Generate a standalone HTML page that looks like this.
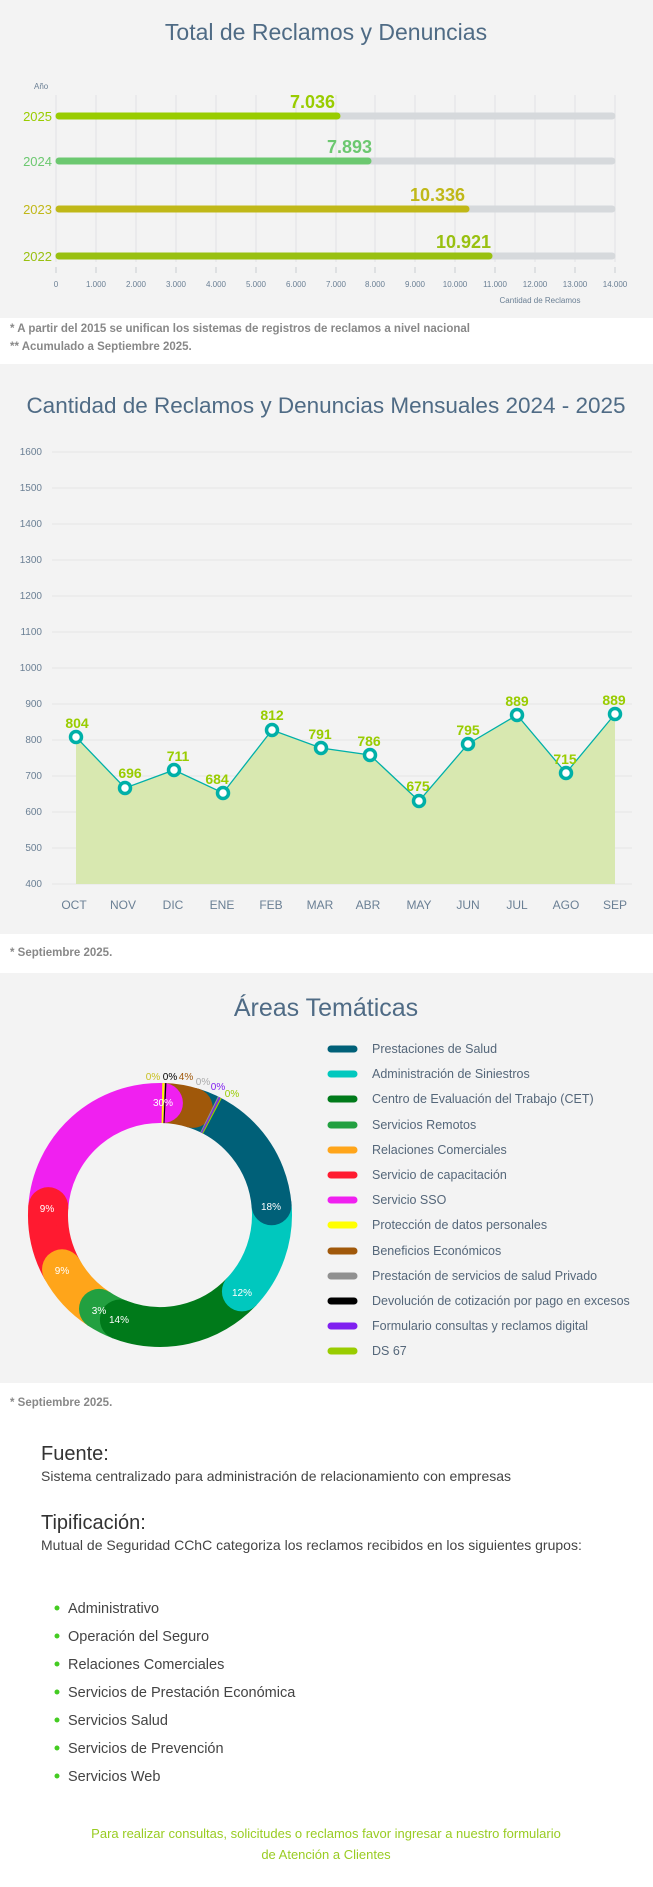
<!DOCTYPE html>
<html><head><meta charset="utf-8"><style>
body{margin:0;width:653px;height:1887px;background:#fff;font-family:"Liberation Sans",sans-serif;position:relative;overflow:hidden}
.abs{position:absolute}
</style></head><body>
<svg class="abs" style="left:0;top:0" width="653" height="1887" font-family="Liberation Sans, sans-serif">
<!-- Section 1 -->
<rect x="0" y="0" width="653" height="318" fill="#f3f3f3"/>
<text x="326" y="40" text-anchor="middle" font-size="23" fill="#4f6b85">Total de Reclamos y Denuncias</text>
<text x="34" y="89" font-size="8" fill="#6a7f94">Año</text>
<g stroke="#e0e2e4" stroke-width="1">
<line x1="56" y1="95" x2="56" y2="262"/><line x1="96" y1="95" x2="96" y2="262"/><line x1="136" y1="95" x2="136" y2="262"/><line x1="176" y1="95" x2="176" y2="262"/><line x1="216" y1="95" x2="216" y2="262"/><line x1="256" y1="95" x2="256" y2="262"/><line x1="296" y1="95" x2="296" y2="262"/><line x1="336" y1="95" x2="336" y2="262"/><line x1="375" y1="95" x2="375" y2="262"/><line x1="415" y1="95" x2="415" y2="262"/><line x1="455" y1="95" x2="455" y2="262"/><line x1="495" y1="95" x2="495" y2="262"/><line x1="535" y1="95" x2="535" y2="262"/><line x1="575" y1="95" x2="575" y2="262"/><line x1="615" y1="95" x2="615" y2="262"/>
</g>
<g stroke="#c8ccd0" stroke-width="1">
<line x1="56" y1="267" x2="56" y2="273"/><line x1="96" y1="267" x2="96" y2="273"/><line x1="136" y1="267" x2="136" y2="273"/><line x1="176" y1="267" x2="176" y2="273"/><line x1="216" y1="267" x2="216" y2="273"/><line x1="256" y1="267" x2="256" y2="273"/><line x1="296" y1="267" x2="296" y2="273"/><line x1="336" y1="267" x2="336" y2="273"/><line x1="375" y1="267" x2="375" y2="273"/><line x1="415" y1="267" x2="415" y2="273"/><line x1="455" y1="267" x2="455" y2="273"/><line x1="495" y1="267" x2="495" y2="273"/><line x1="535" y1="267" x2="535" y2="273"/><line x1="575" y1="267" x2="575" y2="273"/><line x1="615" y1="267" x2="615" y2="273"/>
</g>
<g font-size="8" fill="#6a7f94" text-anchor="middle">
<text x="56" y="287">0</text><text x="96" y="287">1.000</text><text x="136" y="287">2.000</text><text x="176" y="287">3.000</text><text x="216" y="287">4.000</text><text x="256" y="287">5.000</text><text x="296" y="287">6.000</text><text x="336" y="287">7.000</text><text x="375" y="287">8.000</text><text x="415" y="287">9.000</text><text x="455" y="287">10.000</text><text x="495" y="287">11.000</text><text x="535" y="287">12.000</text><text x="575" y="287">13.000</text><text x="615" y="287">14.000</text>
<text x="540" y="303">Cantidad de Reclamos</text>
</g>
<g stroke-linecap="round" stroke-width="7">
<line x1="59" y1="116" x2="612" y2="116" stroke="#d6d9dc"/><line x1="59" y1="116" x2="337" y2="116" stroke="#99cc00"/>
<line x1="59" y1="161" x2="612" y2="161" stroke="#d6d9dc"/><line x1="59" y1="161" x2="368" y2="161" stroke="#6cc870"/>
<line x1="59" y1="209" x2="612" y2="209" stroke="#d6d9dc"/><line x1="59" y1="209" x2="466" y2="209" stroke="#c0b818"/>
<line x1="59" y1="256" x2="612" y2="256" stroke="#d6d9dc"/><line x1="59" y1="256" x2="489" y2="256" stroke="#99c010"/>
</g>
<g font-size="13" text-anchor="end">
<text x="52" y="121" fill="#99cc00">2025</text><text x="52" y="166" fill="#6cc870">2024</text><text x="52" y="214" fill="#c0b818">2023</text><text x="52" y="261" fill="#99c010">2022</text>
</g>
<g font-size="18" font-weight="bold" text-anchor="end">
<text x="335" y="108" fill="#99cc00">7.036</text><text x="372" y="153" fill="#6cc870">7.893</text><text x="465" y="201" fill="#c0b818">10.336</text><text x="491" y="248" fill="#99c010">10.921</text>
</g>
<text x="10" y="332" font-size="11.5" font-weight="bold" fill="#888">* A partir del 2015 se unifican los sistemas de registros de reclamos a nivel nacional</text>
<text x="10" y="350" font-size="11.5" font-weight="bold" fill="#888">** Acumulado a Septiembre 2025.</text>

<!-- Section 2 -->
<rect x="0" y="364" width="653" height="570" fill="#f3f3f3"/>
<text x="326" y="413" text-anchor="middle" font-size="22.5" fill="#4f6b85">Cantidad de Reclamos y Denuncias Mensuales 2024 - 2025</text>
<g stroke="#e6e6e6" stroke-width="1">
<line x1="52" y1="452" x2="632" y2="452"/><line x1="52" y1="488" x2="632" y2="488"/><line x1="52" y1="524" x2="632" y2="524"/><line x1="52" y1="560" x2="632" y2="560"/><line x1="52" y1="596" x2="632" y2="596"/><line x1="52" y1="632" x2="632" y2="632"/><line x1="52" y1="668" x2="632" y2="668"/><line x1="52" y1="704" x2="632" y2="704"/><line x1="52" y1="740" x2="632" y2="740"/><line x1="52" y1="776" x2="632" y2="776"/><line x1="52" y1="812" x2="632" y2="812"/><line x1="52" y1="848" x2="632" y2="848"/><line x1="52" y1="884" x2="632" y2="884"/>
</g>
<g font-size="10" fill="#6a7f94" text-anchor="end">
<text x="42" y="455">1600</text><text x="42" y="491">1500</text><text x="42" y="527">1400</text><text x="42" y="563">1300</text><text x="42" y="599">1200</text><text x="42" y="635">1100</text><text x="42" y="671">1000</text><text x="42" y="707">900</text><text x="42" y="743">800</text><text x="42" y="779">700</text><text x="42" y="815">600</text><text x="42" y="851">500</text><text x="42" y="887">400</text>
</g>
<polygon fill="#d8e8b0" points="76,884 76,737 125,788 174,770 223,793 272,730 321,748 370,755 419,801 468,744 517,715 566,773 615,714 615,884"/>
<polyline fill="none" stroke="#00b0a8" stroke-width="1.3" points="76,737 125,788 174,770 223,793 272,730 321,748 370,755 419,801 468,744 517,715 566,773 615,714"/>
<g fill="#fff" stroke="#00b0a8" stroke-width="3.5">
<circle cx="76" cy="737" r="5.5"/><circle cx="125" cy="788" r="5.5"/><circle cx="174" cy="770" r="5.5"/><circle cx="223" cy="793" r="5.5"/><circle cx="272" cy="730" r="5.5"/><circle cx="321" cy="748" r="5.5"/><circle cx="370" cy="755" r="5.5"/><circle cx="419" cy="801" r="5.5"/><circle cx="468" cy="744" r="5.5"/><circle cx="517" cy="715" r="5.5"/><circle cx="566" cy="773" r="5.5"/><circle cx="615" cy="714" r="5.5"/>
</g>
<g font-size="14" font-weight="bold" fill="#99cc00" text-anchor="middle">
<text x="77" y="728">804</text><text x="130" y="778">696</text><text x="178" y="761">711</text><text x="217" y="784">684</text><text x="272" y="720">812</text><text x="320" y="739">791</text><text x="369" y="746">786</text><text x="418" y="791">675</text><text x="468" y="735">795</text><text x="517" y="706">889</text><text x="565" y="764">715</text><text x="614" y="705">889</text>
</g>
<g font-size="12" fill="#6a7f94" text-anchor="middle">
<text x="74" y="909">OCT</text><text x="123" y="909">NOV</text><text x="173" y="909">DIC</text><text x="222" y="909">ENE</text><text x="271" y="909">FEB</text><text x="320" y="909">MAR</text><text x="368" y="909">ABR</text><text x="419" y="909">MAY</text><text x="468" y="909">JUN</text><text x="517" y="909">JUL</text><text x="566" y="909">AGO</text><text x="615" y="909">SEP</text>
</g>
<text x="10" y="956" font-size="11.5" font-weight="bold" fill="#888">* Septiembre 2025.</text>

<!-- Section 3 -->
<rect x="0" y="973" width="653" height="410" fill="#f3f3f3"/>
<text x="326" y="1016" text-anchor="middle" font-size="25" fill="#4f6b85">Áreas Temáticas</text>
<g id="donut"></g>
<g font-size="12.5" fill="#55677a">
<text x="372" y="1053">Prestaciones de Salud</text><text x="372" y="1078">Administración de Siniestros</text><text x="372" y="1103">Centro de Evaluación del Trabajo (CET)</text><text x="372" y="1129">Servicios Remotos</text><text x="372" y="1154">Relaciones Comerciales</text><text x="372" y="1179">Servicio de capacitación</text><text x="372" y="1204">Servicio SSO</text><text x="372" y="1229">Protección de datos personales</text><text x="372" y="1255">Beneficios Económicos</text><text x="372" y="1280">Prestación de servicios de salud Privado</text><text x="372" y="1305">Devolución de cotización por pago en excesos</text><text x="372" y="1330">Formulario consultas y reclamos digital</text><text x="372" y="1355">DS 67</text>
</g>
<g stroke-width="7" stroke-linecap="round">
<line x1="331" y1="1049" x2="354" y2="1049" stroke="#006078"/><line x1="331" y1="1074" x2="354" y2="1074" stroke="#00c8be"/><line x1="331" y1="1099" x2="354" y2="1099" stroke="#007a1a"/><line x1="331" y1="1125" x2="354" y2="1125" stroke="#22a040"/><line x1="331" y1="1150" x2="354" y2="1150" stroke="#ffa51a"/><line x1="331" y1="1175" x2="354" y2="1175" stroke="#ff1a30"/><line x1="331" y1="1200" x2="354" y2="1200" stroke="#f020f0"/><line x1="331" y1="1225" x2="354" y2="1225" stroke="#ffff00"/><line x1="331" y1="1251" x2="354" y2="1251" stroke="#a0580a"/><line x1="331" y1="1276" x2="354" y2="1276" stroke="#909090"/><line x1="331" y1="1301" x2="354" y2="1301" stroke="#000"/><line x1="331" y1="1326" x2="354" y2="1326" stroke="#8020f0"/><line x1="331" y1="1351" x2="354" y2="1351" stroke="#99cc00"/>
</g>
<text x="10" y="1406" font-size="11.5" font-weight="bold" fill="#888">* Septiembre 2025.</text>

<!-- Text section -->
<text x="41" y="1460" font-size="20" fill="#333">Fuente:</text>
<text x="41" y="1481" font-size="14" fill="#444">Sistema centralizado para administración de relacionamiento con empresas</text>
<text x="41" y="1529" font-size="20" fill="#333">Tipificación:</text>
<text x="41" y="1550" font-size="14" fill="#444">Mutual de Seguridad CChC categoriza los reclamos recibidos en los siguientes grupos:</text>
<g fill="#44cc22"><circle cx="57" cy="1608" r="2.5"/><circle cx="57" cy="1636" r="2.5"/><circle cx="57" cy="1664" r="2.5"/><circle cx="57" cy="1692" r="2.5"/><circle cx="57" cy="1720" r="2.5"/><circle cx="57" cy="1748" r="2.5"/><circle cx="57" cy="1776" r="2.5"/></g>
<g font-size="14.5" fill="#444">
<text x="68" y="1613">Administrativo</text><text x="68" y="1641">Operación del Seguro</text><text x="68" y="1669">Relaciones Comerciales</text><text x="68" y="1697">Servicios de Prestación Económica</text><text x="68" y="1725">Servicios Salud</text><text x="68" y="1753">Servicios de Prevención</text><text x="68" y="1781">Servicios Web</text>
</g>
<text x="326" y="1838" text-anchor="middle" font-size="13" fill="#99cc22">Para realizar consultas, solicitudes o reclamos favor ingresar a nuestro formulario</text>
<text x="326" y="1859" text-anchor="middle" font-size="13" fill="#99cc22">de Atención a Clientes</text>
</svg>
<script>
(function(){
var g=document.getElementById('donut'),cx=160,cy=1215,r=112,ns='http://www.w3.org/2000/svg';
function pt(a){var t=(a-90)*Math.PI/180;return [cx+r*Math.cos(t),cy+r*Math.sin(t)];}
function arc(a0,a1,c,w){var p0=pt(a0),p1=pt(a1),l=(a1-a0)>180?1:0;var e=document.createElementNS(ns,'path');
e.setAttribute('d','M'+p0[0]+' '+p0[1]+' A'+r+' '+r+' 0 '+l+' 1 '+p1[0]+' '+p1[1]);e.setAttribute('fill','none');e.setAttribute('stroke',c);e.setAttribute('stroke-width',w);g.appendChild(e);}
function cap(a,c){var p=pt(a),e=document.createElementNS(ns,'circle');e.setAttribute('cx',p[0]);e.setAttribute('cy',p[1]);e.setAttribute('r',20);e.setAttribute('fill',c);g.appendChild(e);}
var s=[[17,85,'#006078'],[85,133,'#00c8be'],[133,201,'#007a1a'],[201,213,'#22a040'],[213,241,'#ffa51a'],[241,274,'#ff1a30'],[274,361.5,'#f020f0'],[361.5,377,'#a0580a']];
s.forEach(function(x){arc(x[0],x[1]+0.5,x[2],40);});
for(var i=s.length-1;i>=0;i--){cap(s[i][1],s[i][2]);}
arc(361,362,'#ffff00',40);arc(362.2,362.8,'#000',40);
arc(26,26.6,'#909090',40);arc(26.6,27.3,'#8020f0',40);arc(27.3,27.9,'#99cc00',40);
var L=[[271,1210,'18%','#fff'],[242,1296,'12%','#fff'],[119,1323,'14%','#fff'],[99,1314,'3%','#fff'],[62,1274,'9%','#fff'],[47,1212,'9%','#fff'],[163,1106,'30%','#fff'],
[153,1080,'0%','#c8c020'],[170,1080,'0%','#000'],[186,1080,'4%','#a0580a'],[203,1085,'0%','#aaa'],[218,1090,'0%','#8020f0'],[232,1097,'0%','#99cc00']];
L.forEach(function(x){var t=document.createElementNS(ns,'text');t.setAttribute('x',x[0]);t.setAttribute('y',x[1]);t.setAttribute('font-size','10');t.setAttribute('text-anchor','middle');t.setAttribute('fill',x[3]);t.textContent=x[2];g.appendChild(t);});
})();
</script>
</body></html>
